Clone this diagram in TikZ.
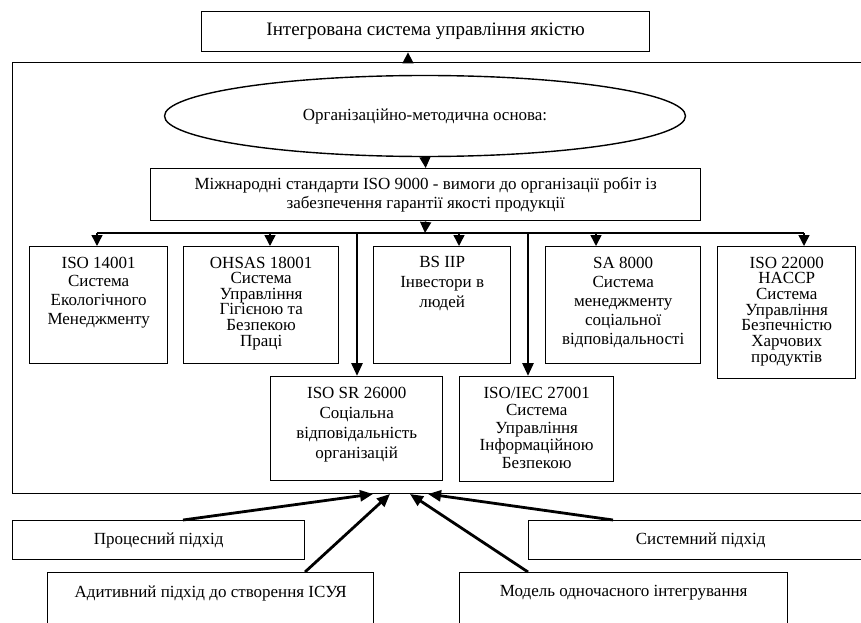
\documentclass[tikz,border=0pt]{standalone}
\usepackage{fontspec}
\setmainfont{Liberation Serif}
\usetikzlibrary{arrows.meta,positioning,shapes.geometric}
\newcommand{\topbox}[4]{\parbox[t][#2][t]{#1}{\centering\fontsize{17}{#3}\selectfont #4}}

\begin{document}
\begin{tikzpicture}[x=1pt,y=-1pt,>={Triangle[length=11pt,width=11pt]},
line width=1.4pt,
box/.style={draw,anchor=north west,inner xsep=2pt,inner ysep=10pt,font=\fontsize{17}{19}\selectfont},
flow/.style={->,line width=1.5pt},
bold/.style={-{Triangle[length=13pt,width=11pt]},line width=2.8pt}
]
\useasboundingbox (0,0) rectangle (861,623);

\node[box,minimum width=448pt,minimum height=40pt,font=\fontsize{19}{21}\selectfont] (Title) at (201,11) {Інтегрована система управління якістю};
\node[draw,anchor=north west,minimum width=900pt,minimum height=431pt] (Frame) at (12,62) {};
\node[draw,ellipse,minimum width=521pt,minimum height=81pt,font=\fontsize{17}{19}\selectfont] (Basis) at (425,116) {Організаційно-методична основа:};
\node[box,minimum width=550pt,minimum height=52pt,inner ysep=4pt,align=center] (Iso9000) at (150,168)
  {Міжнародні стандарти ISO 9000 - вимоги до організації робіт із\\забезпечення гарантії якості продукції};

\node[box] (Iso14001) at (29,246) {\topbox{134pt}{97pt}{18.7pt}{ISO 14001\\Система\\Екологічного\\Менеджменту}};
\node[box] (Ohsas) at (183,246) {\topbox{151pt}{97pt}{15.6pt}{OHSAS 18001\\Система\\Управління\\Гігієною та\\Безпекою\\Праці}};
\node[box] (Bsiip) at (373,246) {\topbox{133pt}{97pt}{20pt}{BS IIP\\Інвестори в\\людей}};
\node[box] (Sa8000) at (545,246) {\topbox{151pt}{97pt}{19pt}{SA 8000\\Система\\менеджменту\\соціальної\\відповідальності}};
\node[box] (Iso22000) at (717,246) {\topbox{134pt}{112pt}{15.7pt}{ISO 22000\\HACCP\\Система\\Управління\\Безпечністю\\Харчових\\продуктів}};
\node[box] (Iso26000) at (270,376) {\topbox{168pt}{84pt}{20pt}{ISO SR 26000\\Соціальна\\відповідальність\\організацій}};
\node[box] (Iso27001) at (459,376) {\topbox{150pt}{85pt}{17.5pt}{ISO/IEC 27001\\Система\\Управління\\Інформаційною\\Безпекою}};

\node[box,minimum width=292pt,minimum height=39pt] (Process) at (12,520) {Процесний підхід};
\node[box,minimum width=344pt,minimum height=39pt] (System) at (528,520) {Системний підхід};
\node[box,inner ysep=13pt] (Additive) at (47,572) {\topbox{322pt}{34pt}{19pt}{Адитивний підхід до створення ІСУЯ}};
\node[box,inner ysep=13pt] (Simult) at (459,572) {\topbox{324pt}{34pt}{19pt}{Модель одночасного інтегрування}};

\coordinate (up) at (408,62);
\coordinate (bus) at (425,233);
\coordinate (d1) at (97,233);
\coordinate (d2) at (270,233);
\coordinate (d3) at (459,233);
\coordinate (d4) at (596,233);
\coordinate (d5) at (804,233);
\coordinate (t1) at (357,233);
\coordinate (t2) at (528,233);
\coordinate (a1) at (373,494);
\coordinate (a2) at (390,494);
\coordinate (a3) at (410,494);
\coordinate (a4) at (428,494);
\coordinate (s1) at (183,520);
\coordinate (s2) at (305,572);
\coordinate (s3) at (528,572);
\coordinate (s4) at (613,520);

\draw (d1) -- (d5);
\path[flow] (up) edge (up |- Title.south)
  (Basis.south) edge (Iso9000.north)
  (Iso9000.south) edge (bus)
  (d1) edge (d1 |- Iso14001.north)
  (d2) edge (d2 |- Ohsas.north)
  (d3) edge (d3 |- Bsiip.north)
  (d4) edge (d4 |- Sa8000.north)
  (d5) edge (d5 |- Iso22000.north);
\path[bold] (t1) edge (t1 |- Iso26000.north)
  (t2) edge (t2 |- Iso27001.north)
  (s1) edge (a1)
  (s2) edge (a2)
  (s3) edge (a3)
  (s4) edge (a4);
\end{tikzpicture}
\end{document}
